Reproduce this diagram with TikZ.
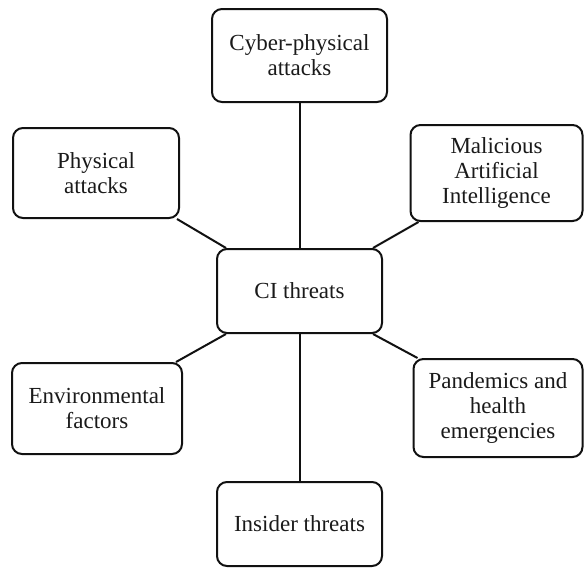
\documentclass[tikz,border=0pt]{standalone}
\usepackage{fontspec}
\setmainfont{Liberation Serif}
\newfontfamily\threatfont{Liberation Serif}
\usepackage{xcolor}
\definecolor{threatline}{HTML}{111111}
\definecolor{threattext}{HTML}{1A1A1A}

\tikzset{
	threatbox/.style={draw=threatline,line width=2pt,rounded corners=10pt,inner sep=0pt,
		align=center,text=threattext,font=\threatfont\fontsize{23}{25}\selectfont},
	threatlink/.style={draw=threatline,line width=2pt}
}

\begin{document}
\begin{tikzpicture}[x=1pt,y=-1pt]
		\useasboundingbox (0,0) rectangle (584,568);
		%
		\node [threatbox,minimum width=165pt,minimum height=84pt] (ci) at (299.5,291) {CI threats};
		\node [threatbox,minimum width=175pt,minimum height=93pt] (cyber) at (299.5,55.5) {Cyber-physical\\attacks};
		\node [threatbox,minimum width=166pt,minimum height=90pt] (phys) at (96,173) {Physical\\attacks};
		\node [threatbox,minimum width=172pt,minimum height=96pt] (mal) at (496.5,173) {Malicious\\Artificial\\Intelligence};
		\node [threatbox,minimum width=170pt,minimum height=91pt] (env) at (97,408.5) {Environmental\\factors};
		\node [threatbox,minimum width=169pt,minimum height=98pt] (pand) at (498,408) {Pandemics and\\health\\emergencies};
		\node [threatbox,minimum width=165pt,minimum height=84pt] (ins) at (299.5,524) {Insider threats};
		%
		\draw [threatlink] (cyber.south) -- (ci.north);
		\draw [threatlink] (ci.south) -- (ins.north);
		\draw [threatlink] ([xshift=-3pt]phys.south east) -- ([xshift=10pt]ci.north west);
		\draw [threatlink] ([xshift=9pt]mal.south west) -- ([xshift=-10pt]ci.north east);
		\draw [threatlink] ([xshift=-7pt]env.north east) -- ([xshift=10pt]ci.south west);
		\draw [threatlink] ([xshift=5pt]pand.north west) -- ([xshift=-10pt]ci.south east);
	\end{tikzpicture}
\end{document}
